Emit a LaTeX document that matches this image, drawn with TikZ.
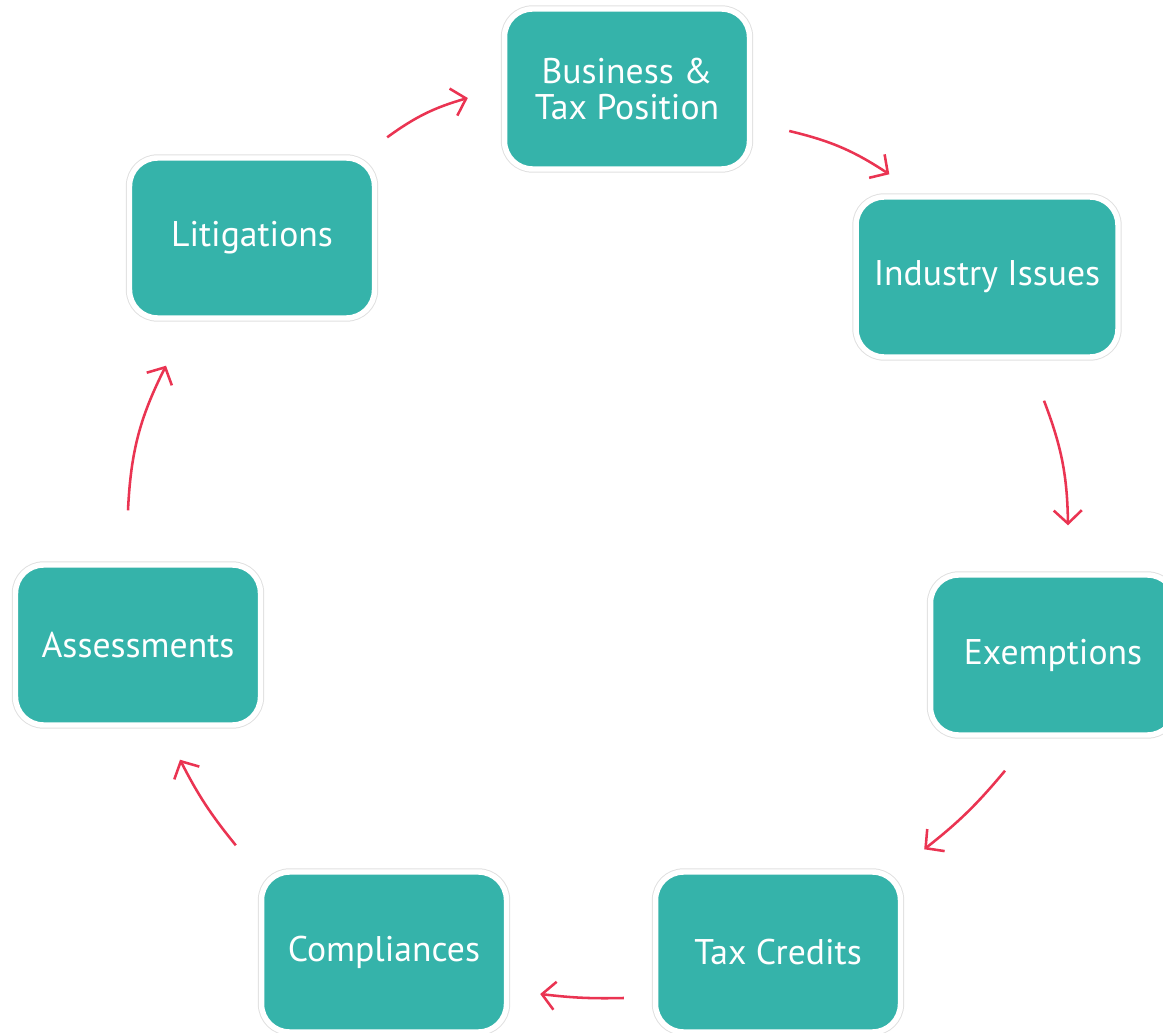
\documentclass[tikz,border=0pt]{standalone}
\usepackage{fontspec}
\setmainfont{PT Sans}
\usetikzlibrary{arrows.meta}
\definecolor{tealbox}{RGB}{53,179,170}
\definecolor{arrowred}{RGB}{234,52,82}

\begin{document}
\begin{tikzpicture}[x=0.02cm, y=-0.02cm,
	box/.style={rectangle, rounded corners=0.56cm, fill=tealbox, draw=white, line width=3.1pt,
		preaction={draw=black!12, line width=4.2pt},
		minimum width=4.9cm, minimum height=3.2cm, inner sep=0pt,
		text=white, align=center, font=\fontsize{20.3}{20.5}\selectfont},
	arr/.style={draw=arrowred, line width=1.45pt, -{Straight Barb[length=7.5pt,width=16pt]}}]
		\useasboundingbox (0,0) rectangle (1163,1033);
		\node[box] (bus) at (627,89) {Business \&\\Tax Position};
		\node[box] (lit) at (252,238) {Litigations};
		\node[box, minimum width=5.24cm] (ind) at (987,277) {Industry Issues};
		\node[box] (exe) at (1053,655) {Exemptions};
		\node[box] (tax) at (778,952) {Tax Credits};
		\node[box] (comp) at (384,952) {Compliances};
		\node[box] (ass) at (138,645) {Assessments};
		
		\draw[arr] ([shift={(10,-18)}]lit.north east) to[bend left=10] ([shift={(-34,9)}]bus.west);
		\draw[arr] ([shift={(37,42)}]bus.east) to[bend left=10] ([shift={(36,-20)}]ind.north west);
		\draw[arr] ([shift={(57,41)}]ind.south) to[bend left=10] ([shift={(15,-47)}]exe.north);
		\draw[arr] ([shift={(-48,33)}]exe.south) to[bend left=6] ([shift={(21,-20)}]tax.north east);
		\draw[arr] ([shift={(-29,46)}]tax.west) to[bend left=4] ([shift={(31,42)}]comp.east);
		\draw[arr] ([shift={(-23,-24)}]comp.north west) to[bend left=6] ([shift={(42,32)}]ass.south);
		\draw[arr] ([shift={(-10,-52)}]ass.north) to[bend left=12] ([shift={(-86,45)}]lit.south);
	\end{tikzpicture}
\end{document}
